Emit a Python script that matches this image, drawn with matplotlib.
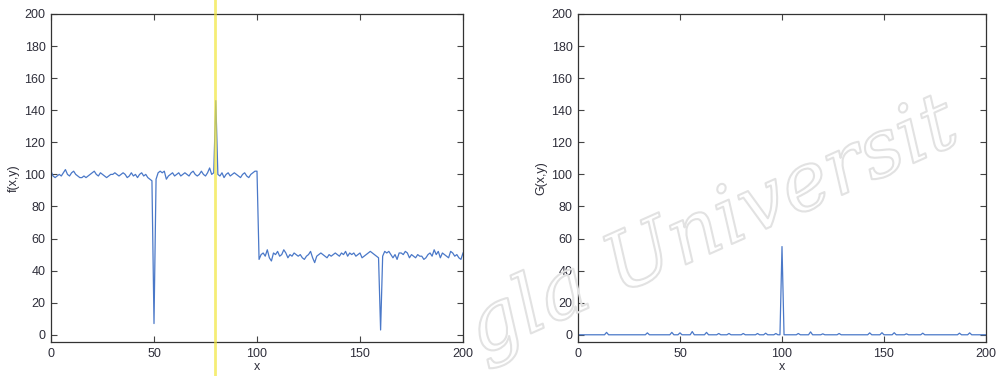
import numpy as np
import matplotlib
matplotlib.use("Agg")
import matplotlib.pyplot as plt
import matplotlib.patheffects as pe

# -----------------------------
# Data
# -----------------------------
x = np.arange(0, 201)

# one row per ten samples (x = 0..9, 10..19, ...), last value is x = 200
f_vals = [
    102, 99, 98, 99, 100, 99, 101, 103, 100, 99,
    101, 102, 100, 99, 98, 98, 99, 98, 99, 100,
    101, 102, 100, 99, 101, 100, 99, 98, 99, 100,
    100, 101, 100, 99, 100, 101, 100, 98, 99, 101,
    99, 100, 98, 100, 101, 99, 100, 98, 97, 96,
    7, 97, 101, 102, 101, 102, 97, 99, 100, 101,
    99, 100, 101, 99, 100, 101, 100, 99, 101, 102,
    100, 99, 100, 102, 100, 99, 101, 104, 100, 101,
    146, 100, 99, 101, 98, 100, 101, 99, 100, 101,
    100, 99, 98, 100, 101, 99, 98, 100, 101, 102,
    102, 47, 50, 51, 49, 53, 48, 46, 51, 50,
    52, 49, 50, 53, 51, 48, 50, 49, 51, 50,
    49, 50, 48, 47, 49, 50, 52, 48, 45, 49,
    50, 51, 50, 49, 48, 50, 49, 50, 51, 50,
    49, 51, 50, 52, 49, 51, 50, 51, 49, 50,
    51, 48, 49, 50, 51, 52, 51, 50, 49, 48,
    3, 49, 52, 51, 52, 50, 48, 50, 47, 51,
    51, 50, 52, 51, 48, 50, 49, 48, 50, 49,
    49, 47, 48, 50, 51, 49, 53, 50, 52, 48,
    51, 50, 49, 48, 52, 51, 49, 50, 48, 47,
    51,
]

# G(x,y): zero except for small bumps and the edge at x=100
g_pos = [14, 34, 46, 50, 56, 63, 69, 74, 81, 88, 92, 97, 100,
         108, 114, 120, 128, 143, 149, 155, 161, 169, 187, 192]
g_amp = [1.5, 1.2, 1.5, 1.2, 2.0, 1.5, 0.8, 0.8, 0.8, 0.8, 1.0, 0.8, 55,
         0.8, 1.8, 0.6, 0.8, 1.2, 1.3, 1.3, 0.6, 1.0, 1.0, 1.2]

g_vals = np.zeros(len(x))
g_vals[g_pos] = g_amp

marker_x = 79.7

# -----------------------------
# Figure
# -----------------------------
plt.rcParams['font.family'] = ['Liberation Sans', 'DejaVu Sans']
TXT = '#2e2e3a'
LINE = '#4a78c8'
TICK_FS = 9

fig = plt.figure(figsize=(10.02, 3.76), dpi=100)
ax_f = fig.add_axes([51 / 1002, 34 / 376, 412 / 1002, 328 / 376])
ax_g = fig.add_axes([578 / 1002, 34 / 376, 408 / 1002, 328 / 376])


def style(ax, ylabel):
    ax.set_xlim(0, 200)
    ax.set_ylim(-4.5, 200)
    ax.set_xticks([0, 50, 100, 150, 200])
    ax.set_yticks(np.arange(0, 201, 20))
    ax.tick_params(direction='in', top=True, right=True, length=4,
                   width=0.8, colors='#444444', labelcolor=TXT,
                   labelsize=TICK_FS, pad=4)
    for s in ax.spines.values():
        s.set_color('#333333')
        s.set_linewidth(0.9)
    ax.set_xlabel('x', fontsize=9, color=TXT, labelpad=1)
    ax.set_ylabel(ylabel, fontsize=9, color=TXT, labelpad=3)


ax_f.plot(x, f_vals, color=LINE, linewidth=0.9)
style(ax_f, 'f(x,y)')
ax_f.axvline(marker_x, ymin=-0.11, ymax=1.05, clip_on=False,
             color='#f2e63c', linewidth=2.0, alpha=0.7, zorder=5)

ax_g.plot(x, g_vals, color=LINE, linewidth=0.9)
style(ax_g, 'G(x,y)')

# faint outlined watermark
fig.text(0.455, 0.01, 'gla Universit', fontsize=58, family='DejaVu Serif',
         style='italic', rotation=24, color=(1, 1, 1, 0),
         ha='left', va='bottom', zorder=10,
         path_effects=[pe.Stroke(linewidth=1.5, foreground='#e2e2e2'),
                       pe.Normal()])

fig.savefig('out.png', dpi=100)
